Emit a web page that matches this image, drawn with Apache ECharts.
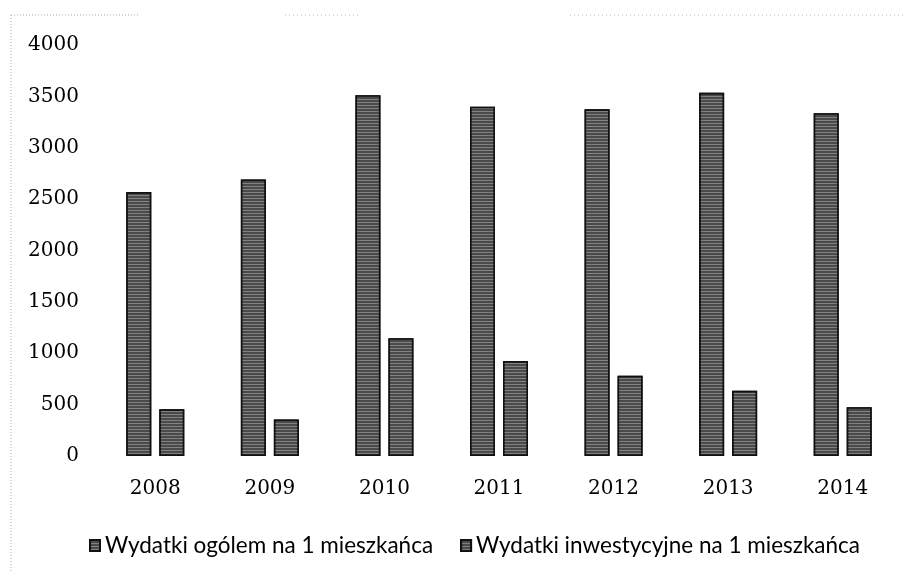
<!DOCTYPE html>
<html>
<head>
<meta charset="utf-8">
<script src="https://cdn.jsdelivr.net/npm/echarts@6/dist/echarts.min.js"></script>
<style>
  html, body { margin: 0; padding: 0; background: #fff; }
  #chart { width: 915px; height: 572px; }
</style>
</head>
<body>
<div id="chart"></div>
<script>
const years = ['2008', '2009', '2010', '2011', '2012', '2013', '2014']
const totalPerCapita = [2570, 2690, 3510, 3400, 3375, 3535, 3335]
const investPerCapita = [455, 355, 1145, 925, 780, 635, 475]
const seriesNames = ['Wydatki ogólem na 1 mieszkańca', 'Wydatki inwestycyjne na 1 mieszkańca']

const chart = echarts.init(document.getElementById('chart'))

// scanned look: dark grey fill with light horizontal streaks
const barStyle = {
  color: '#4a4a4a',
  borderColor: '#111',
  borderWidth: 1.5,
  decal: {
    symbol: 'rect',
    dashArrayX: [1, 0],
    dashArrayY: [1, 2],
    color: 'rgba(255,255,255,0.3)',
    rotation: 0
  }
}

const tickFont = {
  fontFamily: 'DejaVu Serif',
  fontSize: 20,
  color: '#000'
}

chart.setOption({
  animation: false,
  backgroundColor: '#fff',
  grid: {
    left: 98,
    right: 15,
    top: 45,
    bottom: 116
  },
  legend: {
    left: 84,
    top: 529,
    itemWidth: 10,
    itemHeight: 11,
    itemGap: 27,
    icon: 'rect',
    textStyle: {
      fontFamily: 'Lato',
      fontSize: 22.5,
      color: '#000'
    },
    data: seriesNames
  },
  xAxis: {
    type: 'category',
    data: years,
    axisLine: { show: false },
    axisTick: { show: false },
    axisLabel: Object.assign({ margin: 23 }, tickFont)
  },
  yAxis: {
    type: 'value',
    min: 0,
    max: 4000,
    interval: 500,
    splitLine: { show: false },
    axisLine: { show: false },
    axisTick: { show: false },
    axisLabel: Object.assign({ margin: 19, formatter: v => String(v) }, tickFont)
  },
  series: [
    {
      name: seriesNames[0],
      type: 'bar',
      data: totalPerCapita,
      barWidth: 25,
      barGap: '32%',
      itemStyle: barStyle
    },
    {
      name: seriesNames[1],
      type: 'bar',
      data: investPerCapita,
      barWidth: 25,
      barGap: '32%',
      itemStyle: barStyle
    }
  ],
  graphic: [
    {
      type: 'line',
      shape: { x1: 11, y1: 15, x2: 11, y2: 572 },
      style: { stroke: '#aaa', lineWidth: 1, lineDash: [1, 2] },
      silent: true
    },
    {
      type: 'line',
      shape: { x1: 11, y1: 15, x2: 140, y2: 15 },
      style: { stroke: '#aaa', lineWidth: 1, lineDash: [1, 2] },
      silent: true
    },
    {
      type: 'line',
      shape: { x1: 285, y1: 15, x2: 360, y2: 15 },
      style: { stroke: '#bbb', lineWidth: 1, lineDash: [1, 3] },
      silent: true
    },
    {
      type: 'line',
      shape: { x1: 570, y1: 15, x2: 905, y2: 15 },
      style: { stroke: '#bbb', lineWidth: 1, lineDash: [1, 3] },
      silent: true
    }
  ]
})
</script>
</body>
</html>
